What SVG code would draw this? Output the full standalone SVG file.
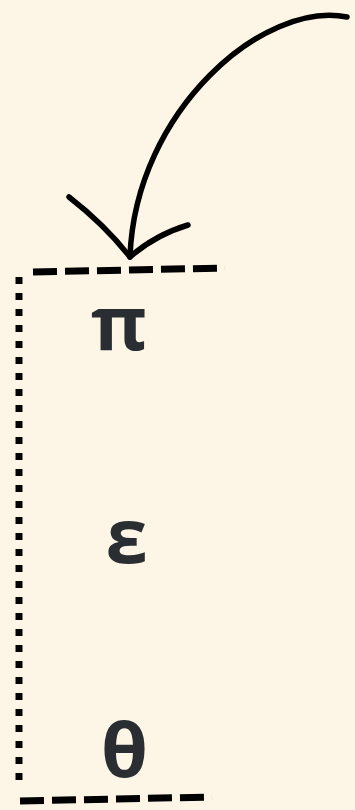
<svg xmlns="http://www.w3.org/2000/svg" width="355" height="810" viewBox="0 0 355 810">
<style>
.t{font-family:"Open Sans","Noto Sans","DejaVu Sans",sans-serif;font-weight:bold;font-size:76px;fill:#2a2e33;text-anchor:middle}
.dash{fill:none;stroke:#000;stroke-width:7;stroke-dasharray:24 8}
.dot{fill:none;stroke:#000;stroke-width:7;stroke-dasharray:7 9}
.arr{fill:none;stroke:#000;stroke-width:5.5;stroke-linecap:round;stroke-linejoin:round}
</style>
<rect width="355" height="810" fill="#fdf6e7"/>
<g id="frame">
<path class="dash" d="M33,272 L225,268"/>
<path class="dot" d="M19,277 L19,786"/>
<path class="dash" d="M20,801 L212,797"/>
</g>
<g id="node-pi"><text class="t" x="119" y="350">π</text></g>
<g id="node-epsilon"><text class="t" x="126.5" y="563">ε</text></g>
<g id="node-theta"><text class="t" x="124.5" y="777">θ</text></g>
<g id="connectors">
<path class="arr" d="M347,17 C265,0 135,110 130,257"/>
<path class="arr" d="M69,197 Q105,225 130,257 Q155,235 188,225"/>
</g>
</svg>
